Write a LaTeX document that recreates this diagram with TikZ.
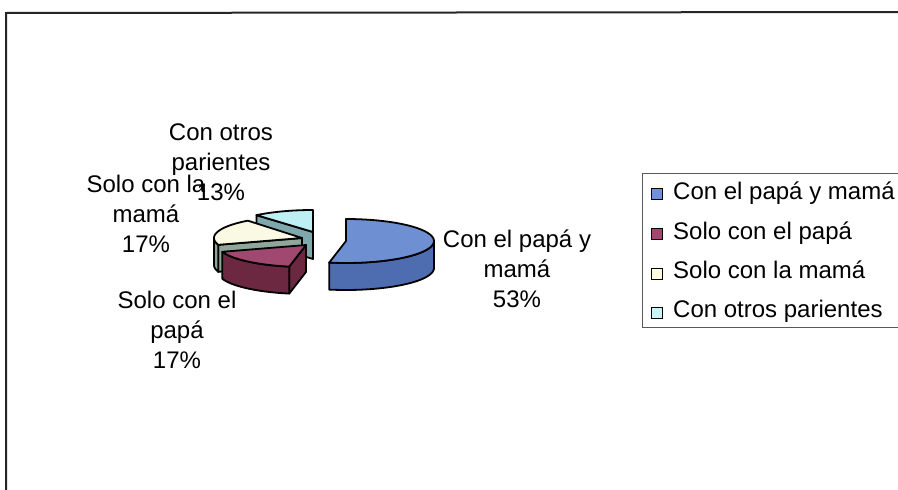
\documentclass[tikz,border=0pt]{standalone}
\usepackage{fontspec}
\setmainfont{Liberation Sans}
\definecolor{bluetop}{HTML}{6E8FD2}
\definecolor{blueside}{HTML}{4D6DB0}
\definecolor{martop}{HTML}{A04870}
\definecolor{marside}{HTML}{6B2840}
\definecolor{creamtop}{HTML}{FAFAE4}
\definecolor{creamside}{HTML}{8FA69A}
\definecolor{cyantop}{HTML}{BDEFF5}
\definecolor{cyanside}{HTML}{7FA8AC}
\definecolor{legblue}{HTML}{7090D8}
\definecolor{legmar}{HTML}{A04870}
\definecolor{legcream}{HTML}{FFFFE0}
\definecolor{legcyan}{HTML}{C8F4F8}
\def\prx{88}
\def\pry{22}
\def\pth{27}
% cx cy a b colour
\newcommand\pieArcSide[5]{%
  \filldraw[fill=#5, pieline]
    plot[domain=#3:#4, samples=30] ({#1+\prx*cos(\x)},{#2-\pry*sin(\x)})
    -- plot[domain=#4:#3, samples=30] ({#1+\prx*cos(\x)},{#2+\pth-\pry*sin(\x)})
    -- cycle;}
% cx cy angle colour
\newcommand\pieRadSide[4]{%
  \filldraw[fill=#4, pieline]
    (#1,#2) -- ({#1+\prx*cos(#3)},{#2-\pry*sin(#3)})
    -- ({#1+\prx*cos(#3)},{#2+\pth-\pry*sin(#3)})
    -- ({#1},{#2+\pth}) -- cycle;}
% cx cy a b colour
\newcommand\pieTopFace[5]{%
  \filldraw[fill=#5, pieline]
    (#1,#2) -- plot[domain=#3:#4, samples=40] ({#1+\prx*cos(\x)},{#2-\pry*sin(\x)})
    -- cycle;}
\tikzset{
  pieline/.style={draw=black, line width=1.8pt, line join=round},
  lbl/.style={font=\fontsize{24}{30}\selectfont, align=center, inner sep=0pt, anchor=base},
  legtxt/.style={font=\fontsize{24}{30}\selectfont, inner sep=0pt, anchor=base west},
  legsq/.style={draw=black, line width=1.2pt, minimum size=11pt, inner sep=0pt}
}
\begin{document}
\begin{tikzpicture}[x=1pt,y=-1pt]
\useasboundingbox (0,0) rectangle (898,490);
\fill[white] (0,0) rectangle (898,490);
% outer frame
\draw[line width=2pt, black!85] (6,495) -- (6,13) -- (905,12);
% legend box
\draw[line width=1pt, black!65] (905,173) -- (642,173) -- (642,327) -- (905,327);

% cyan slice
\pieRadSide{313}{232}{130}{cyanside}
\pieTopFace{313}{232}{90}{130}{cyantop}
% cream slice
\pieRadSide{302}{238}{198}{creamside}
\pieArcSide{302}{238}{180}{198}{creamside}
\pieTopFace{302}{238}{128}{198}{creamtop}
% maroon slice
\pieRadSide{306}{245}{259}{marside}
\pieArcSide{306}{245}{198}{259}{marside}
\pieTopFace{306}{245}{198}{259}{martop}
% blue slice
\pieArcSide{346}{241}{-101}{0}{blueside}
\pieTopFace{346}{241}{-101}{90}{bluetop}

% data labels (anchor at baseline of last line)
\node[lbl] (lotros) at (221,200) {Con otros\\parientes\\13\%};
\node[lbl] (lmama) at (146,252) {Solo con la\\mamá\\17\%};
\node[lbl] (lpapa) at (177,368) {Solo con el\\papá\\17\%};
\node[lbl] (lambos) at (517,307) {Con el papá y\\mamá\\53\%};

% legend
\node[legsq, fill=legblue] (sq1) at (657,194) {};
\node[legsq, fill=legmar] (sq2) at (657,234) {};
\node[legsq, fill=legcream] (sq3) at (657,274) {};
\node[legsq, fill=legcyan] (sq4) at (657,313) {};
\node[legtxt] (t1) at (673,199) {Con el papá y mamá};
\node[legtxt] (t2) at (673,239) {Solo con el papá};
\node[legtxt] (t3) at (673,278) {Solo con la mamá};
\node[legtxt] (t4) at (673,317) {Con otros parientes};
\end{tikzpicture}
\end{document}
